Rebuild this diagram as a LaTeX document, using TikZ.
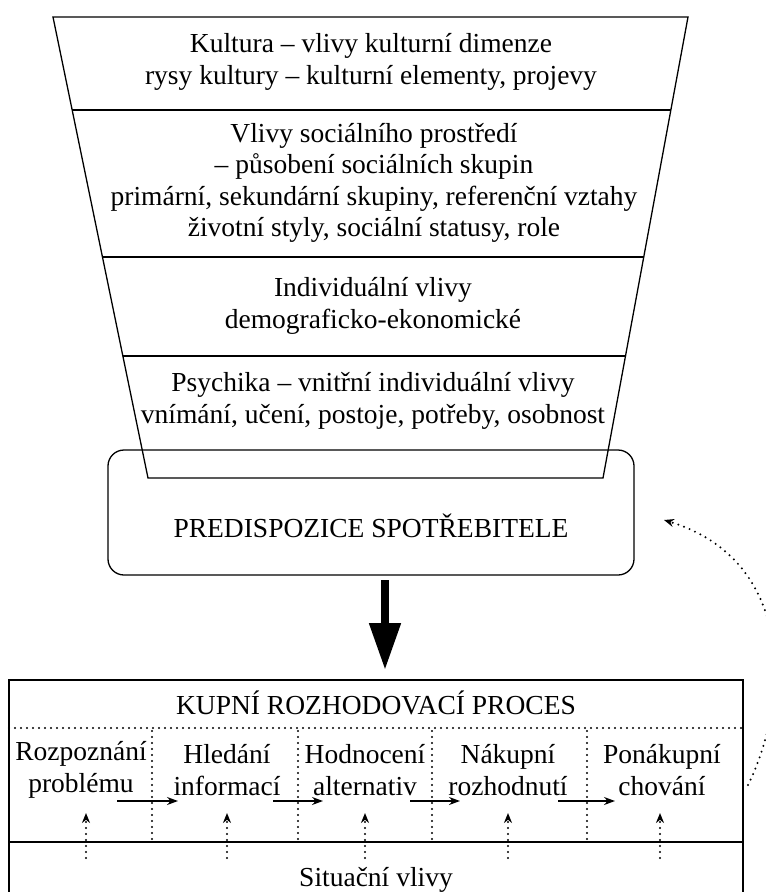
\documentclass[tikz,border=0pt]{standalone}
\usepackage{fontspec}
\setmainfont{Liberation Serif}
\usetikzlibrary{arrows.meta,calc}
\tikzset{every picture/.style={line width=1.3pt}}

\begin{document}
\begin{tikzpicture}[x=1pt,y=1pt,yscale=-1,
        txt/.style={align=center,inner sep=0pt,font=\fontsize{27.5}{31.5}\selectfont},
        dots/.style={line width=2.2pt,dash pattern=on 0pt off 6pt,line cap=round},
        harrow/.style={-{Stealth[length=11,width=8]}},
        uparrow/.style={dots,-{Stealth[length=10,width=8]}}]
    \useasboundingbox (0,0) rectangle (766,892);
    \draw (53,17) -- (688,17) -- (603,478) -- (148,478) -- cycle;
    \draw (72.2,110) -- (670.9,110);
    \draw (102.5,257) -- (643.7,257);
    \draw (122.9,356) -- (625.5,356);
    \node[txt] (kult) at (371,62) {Kultura -- vlivy kulturní dimenze\\rysy kultury -- kulturní elementy, projevy};
    \node[txt] (soc) at (374,183) {Vlivy sociálního prostředí\\-- působení sociálních skupin\\primární, sekundární skupiny, referenční vztahy\\životní styly, sociální statusy, role};
    \node[txt] (indiv) at (373,306) {Individuální vlivy\\demograficko-ekonomické};
    \node[txt] (psych) at (373,401) {Psychika -- vnitřní individuální vlivy\\vnímání, učení, postoje, potřeby, osobnost};
    \draw[rounded corners=16] (108,450) rectangle (634,575);
    \node[txt] (pred) at (371,526) {PREDISPOZICE SPOTŘEBITELE};
    \node[draw,minimum width=734,minimum height=215,anchor=north west,inner sep=0pt,outer sep=0pt] (proc) at (9,680) {};
    \node[txt] (title) at (376,703) {KUPNÍ ROZHODOVACÍ PROCES};
    \draw[line width=8pt,-{Triangle[length=47,width=30]}] (385,580) -- ($(proc.north)+(9,-10)$);
    \draw[dots] (9,728) -- (743,728);
    \draw (9,842) -- (743,842);
    \foreach \x in {152,298,432,587}
        \draw[dots] (\x,731) -- (\x,840);
    \node[txt] (c1) at (81,770) {Rozpoznání\\problému};
    \node[txt] (c2) at (227,770) {Hledání\\informací};
    \node[txt] (c3) at (365,770) {Hodnocení\\alternativ};
    \node[txt] (c4) at (508,770) {Nákupní\\rozhodnutí};
    \node[txt] (c5) at (662,770) {Ponákupní\\chování};
    \node[txt] (sit) at (376,880) {Situační vlivy};
    \foreach \i/\xa/\xb in {1/117/178,2/273/323,3/410/460,4/558/615} {
        \coordinate (h\i a) at (\xa,801);
        \coordinate (h\i b) at (\xb,801);
        \draw[harrow] (h\i a) -- (h\i b);
    }
    \foreach \i/\x in {1/86,2/227,3/365,4/508,5/660} {
        \coordinate (u\i a) at (\x,858);
        \coordinate (u\i b) at (\x,813);
        \draw[uparrow] (u\i a) -- (u\i b);
    }
    \coordinate (fb) at (748,785);
    \coordinate (fe) at (664,520);
    \draw[uparrow] (fb) .. controls (790,700) and (795,560) .. (fe);
\end{tikzpicture}
\end{document}
